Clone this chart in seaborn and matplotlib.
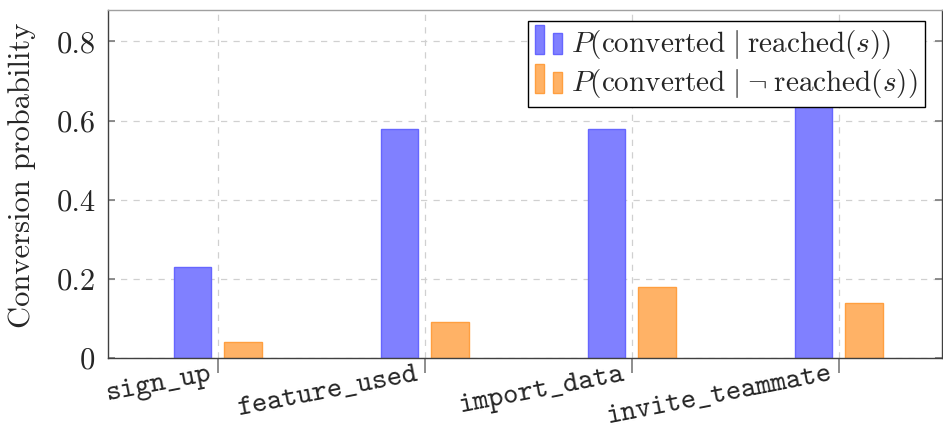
import matplotlib
matplotlib.use('Agg')
import matplotlib.pyplot as plt
import matplotlib.transforms as mtransforms
import seaborn as sns
import pandas as pd
from matplotlib.patches import Rectangle
from matplotlib.legend_handler import HandlerBase
from matplotlib.ticker import FuncFormatter

steps = ['sign_up', 'feature_used', 'import_data', 'invite_teammate']
p_reached = [0.23, 0.58, 0.58, 0.72]
p_not_reached = [0.04, 0.09, 0.18, 0.14]
series = [r'$P(\mathrm{converted}\;|\;\mathrm{reached}(s))$',
          r'$P(\mathrm{converted}\;|\;\neg\;\mathrm{reached}(s))$']
fills = ['#8080ff', '#ffb266']
edges = ['#6666ff', '#ff9f40']

df = pd.DataFrame({'step': steps * 2,
                   'p': p_reached + p_not_reached,
                   'series': [series[0]] * len(steps) + [series[1]] * len(steps)})

sns.set_theme(style='white')
plt.rcParams['mathtext.fontset'] = 'cm'
plt.rcParams['font.family'] = ['cmr10', 'DejaVu Serif']
plt.rcParams['axes.formatter.use_mathtext'] = True

FS = 22
fig = plt.figure(figsize=(9.43, 4.32), dpi=100)
ax = fig.add_axes([0.1145, 0.1713, 0.8845, 0.806])
sns.barplot(data=df, x='step', y='p', hue='series', palette=fills,
            width=0.49, gap=0.265, saturation=1, ax=ax, legend=False)
for cont, ec in zip(ax.containers, edges):
    for p in cont:
        p.set_edgecolor(ec)
        p.set_linewidth(1.0)

ax.set_xlim(-0.53, 3.5)
ax.set_ylim(0, 0.88)
ax.set_yticks([0, 0.2, 0.4, 0.6, 0.8])
ax.yaxis.set_major_formatter(FuncFormatter(lambda v, pos: '0' if abs(v) < 1e-9 else f'{v:.1f}'))
ax.set_xticks(range(len(steps)))
ax.set_xticklabels([''] * len(steps))
offset = mtransforms.ScaledTranslation(-9 / 100, -4 / 100, fig.dpi_scale_trans)
for i, s in enumerate(steps):
    ax.text(i, 0, s, transform=ax.get_xaxis_transform() + offset, rotation=11,
            ha='right', va='top', rotation_mode='anchor',
            family=['cmtt10', 'DejaVu Sans Mono'], fontsize=21, clip_on=False)
for t in ax.get_yticklabels():
    t.set_fontsize(FS)
ax.set_xlabel('')
ax.set_ylabel('Conversion probability', fontsize=FS)
ax.yaxis.set_label_coords(-0.0864, 0.526)

ax.grid(True, ls=(0, (5, 5)), color='#d0d0d0', lw=0.9)
ax.set_axisbelow(True)
ax.tick_params(axis='y', direction='in', length=5, left=True, right=True, color='#808080', pad=9)
ax.tick_params(axis='x', direction='out', length=11, bottom=True, color='#808080', pad=4)
for s in ax.spines.values():
    s.set_color('#404040')
    s.set_linewidth(1.0)
ax.spines['top'].set_color('#a0a0a0')


class TwoBars(HandlerBase):
    def create_artists(self, legend, orig, xd, yd, w, h, fontsize, trans):
        fc = orig.get_facecolor()
        ec = orig.get_edgecolor()
        x0, y0 = -xd, -yd - 0.1 * h
        r1 = Rectangle((x0, y0), 0.34 * w, 1.45 * h, facecolor=fc, edgecolor=ec, lw=1.0, transform=trans)
        r2 = Rectangle((x0 + 0.66 * w, y0), 0.32 * w, 1.05 * h, facecolor=fc, edgecolor=ec, lw=1.0, transform=trans)
        return [r1, r2]


handles = [Rectangle((0, 0), 1, 1, facecolor=f, edgecolor=e) for f, e in zip(fills, edges)]
leg = ax.legend(handles, series, handler_map={Rectangle: TwoBars()}, loc='upper right',
                bbox_to_anchor=(0.98, 0.968), fontsize=21, frameon=True, fancybox=False,
                edgecolor='black', framealpha=1, handlelength=0.95, handletextpad=0.3,
                borderpad=0.25, labelspacing=0.2, borderaxespad=0)
leg.get_frame().set_linewidth(1.0)

fig.savefig('out.png', dpi=100)
